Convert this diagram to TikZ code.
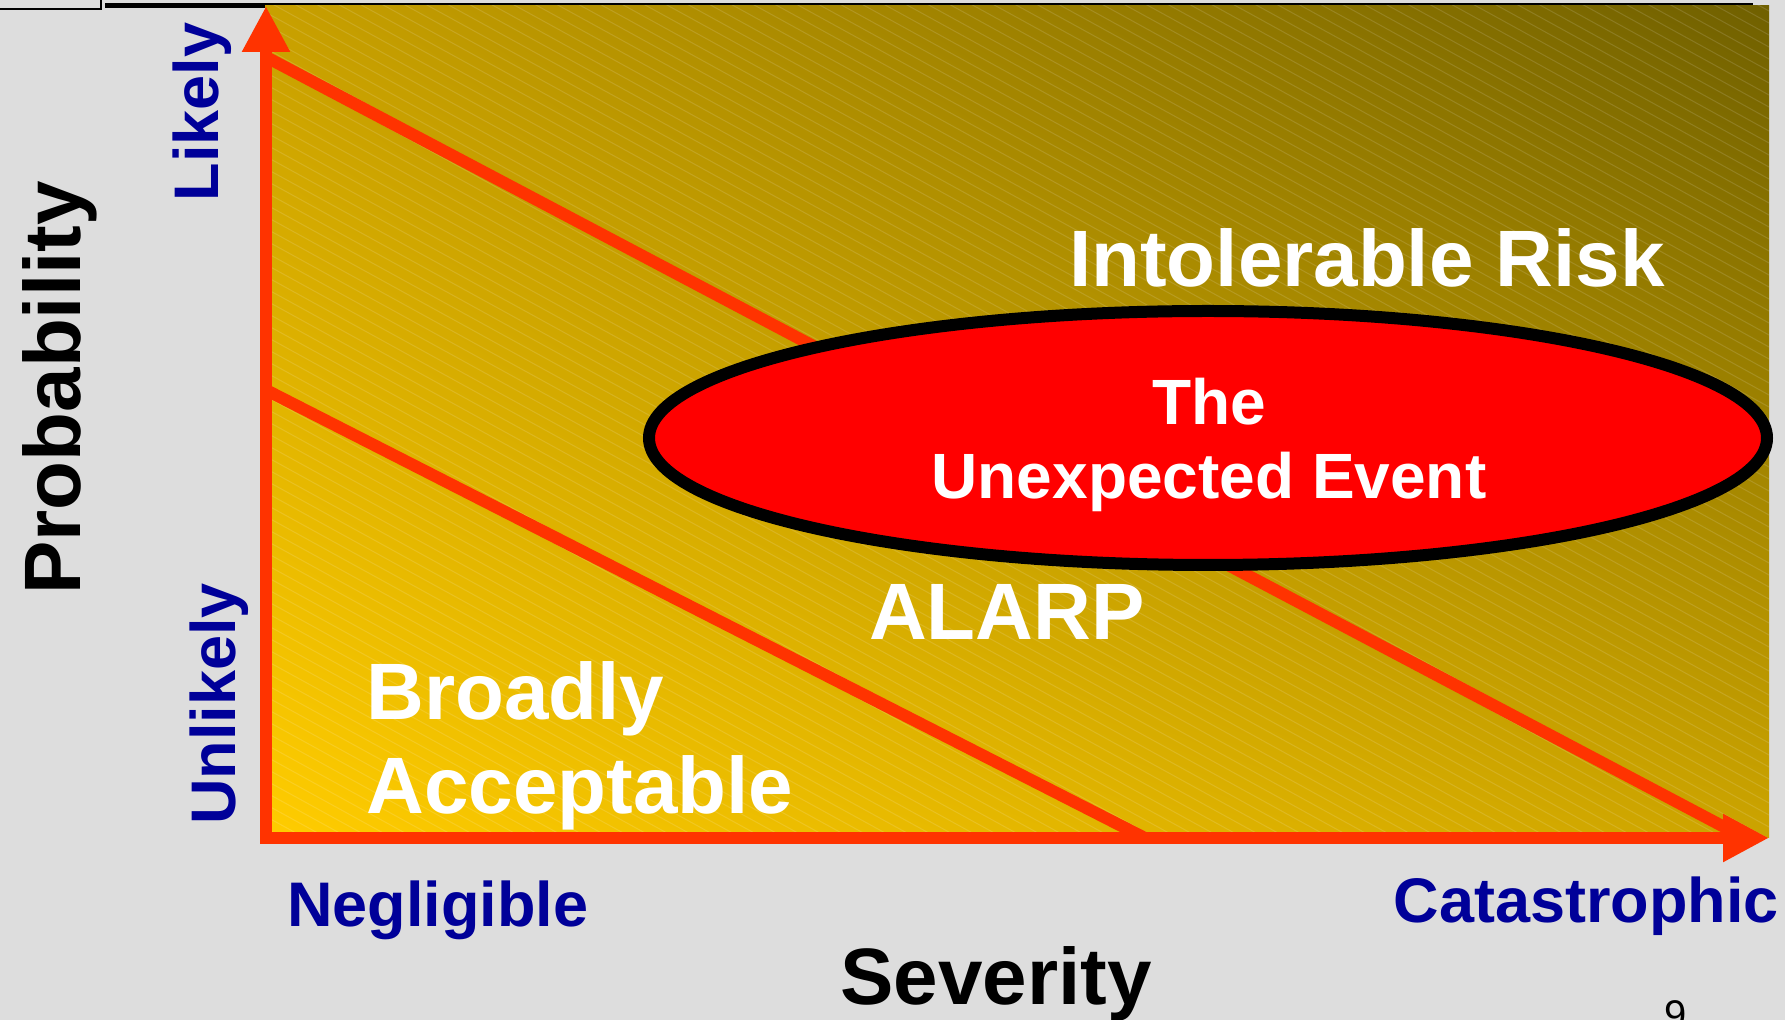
\documentclass[tikz,border=0pt]{standalone}
\usepackage{fontspec}
\setmainfont{Liberation Sans}
\usetikzlibrary{arrows.meta,shapes.geometric,shadings}
\definecolor{bg}{HTML}{DDDDDD}
\definecolor{axisred}{HTML}{FF3300}
\definecolor{lblue}{HTML}{000099}
\definecolor{yelBL}{HTML}{FFCC00}
\definecolor{yelTL}{HTML}{C8A000}
\definecolor{yelBR}{HTML}{CCA400}
\definecolor{yelTR}{HTML}{706000}
\definecolor{evred}{HTML}{FF0000}
\begin{document}
\begin{tikzpicture}[x=0.5pt,y=-0.5pt,
  zonetxt/.style={font=\fontsize{40}{48}\selectfont\bfseries, text=white, inner sep=0pt},
  axistitle/.style={font=\fontsize{40}{48}\selectfont\bfseries, text=black, inner sep=0pt},
  bluelbl/.style={font=\fontsize{31.5}{38}\selectfont\bfseries, text=lblue, inner sep=0pt},
  eventtxt/.style={font=\fontsize{32}{38}\selectfont\bfseries, text=white, inner sep=0pt},
  axisline/.style={draw=axisred, line width=6pt,
    {Triangle[length=23pt,width=22.5pt]}-{Triangle[length=23pt,width=22.5pt]}},
  bandline/.style={draw=axisred, line width=6pt},
  hatch/.style={draw=white, opacity=0.13, line width=0.5pt}]
% background and bounding box
\fill[bg] (0,0) rectangle (1785,1020);
\useasboundingbox (0,0) rectangle (1785,1020);
% top-left box and top rule
\draw[black, line width=1pt, fill=bg] (-5,-5) rectangle (101,9);
\draw[black, line width=2.5pt] (105,5.5) -- (1753,5.5);
% gradient field
\shade[upper left=yelTL, upper right=yelTR, lower left=yelBL, lower right=yelBR]
  (265,6) rectangle (1769,838);
\begin{scope}
  \clip (265,6) rectangle (1769,838);
  \foreach \k in {-840,-828,...,850} {
    \draw[hatch] (265,\k) -- (1769,\k+827);
  }
\end{scope}
% coordinates
\coordinate (origin) at (266,838);
\coordinate (ytip) at (266,6);
\coordinate (xtip) at (1769,838);
\coordinate (hiA) at (266,57);
\coordinate (hiB) at (1745,838);
\coordinate (loA) at (266,390);
\coordinate (loB) at (1145,838);
% band boundaries
\draw[bandline] (hiA) -- (hiB);
\draw[bandline] (loA) -- (loB);
% axes
\draw[axisline, line join=miter] (ytip) -- (origin) -- (xtip);
% event ellipse
\node[ellipse, draw=black, fill=evred, line width=6pt, inner sep=0pt,
  minimum width=559pt, minimum height=127pt] (event) at (1208,438) {};
\node[eventtxt, anchor=base] (the) at (1209,425) {The};
\node[eventtxt, anchor=base] (unexp) at (1209,499) {Unexpected Event};
% zone labels
\node[zonetxt, anchor=base] (intol) at (1367,287) {Intolerable Risk};
\node[zonetxt, anchor=base] (alarp) at (1007,640) {ALARP};
\node[zonetxt, anchor=base west] (broadly) at (366,720) {Broadly};
\node[zonetxt, anchor=base west] (accept) at (366,814) {Acceptable};
% axis labels
\node[bluelbl, anchor=base, rotate=90] (likely) at (218,112) {Likely};
\node[bluelbl, anchor=base, rotate=90] (unlikely) at (235,704) {Unlikely};
\node[bluelbl, anchor=base west] (neglig) at (287,927) {Negligible};
\node[bluelbl, anchor=base east] (catas) at (1779,923) {Catastrophic};
\node[axistitle, anchor=base, rotate=90] (prob) at (80,388) {Probability};
\node[axistitle, anchor=base] (sev) at (996,1005) {Severity};
% page number
\node[font=\fontsize{20}{24}\selectfont, text=black, inner sep=0pt, anchor=north] (pagenum) at (1676,1000) {9};
\end{tikzpicture}
\end{document}
